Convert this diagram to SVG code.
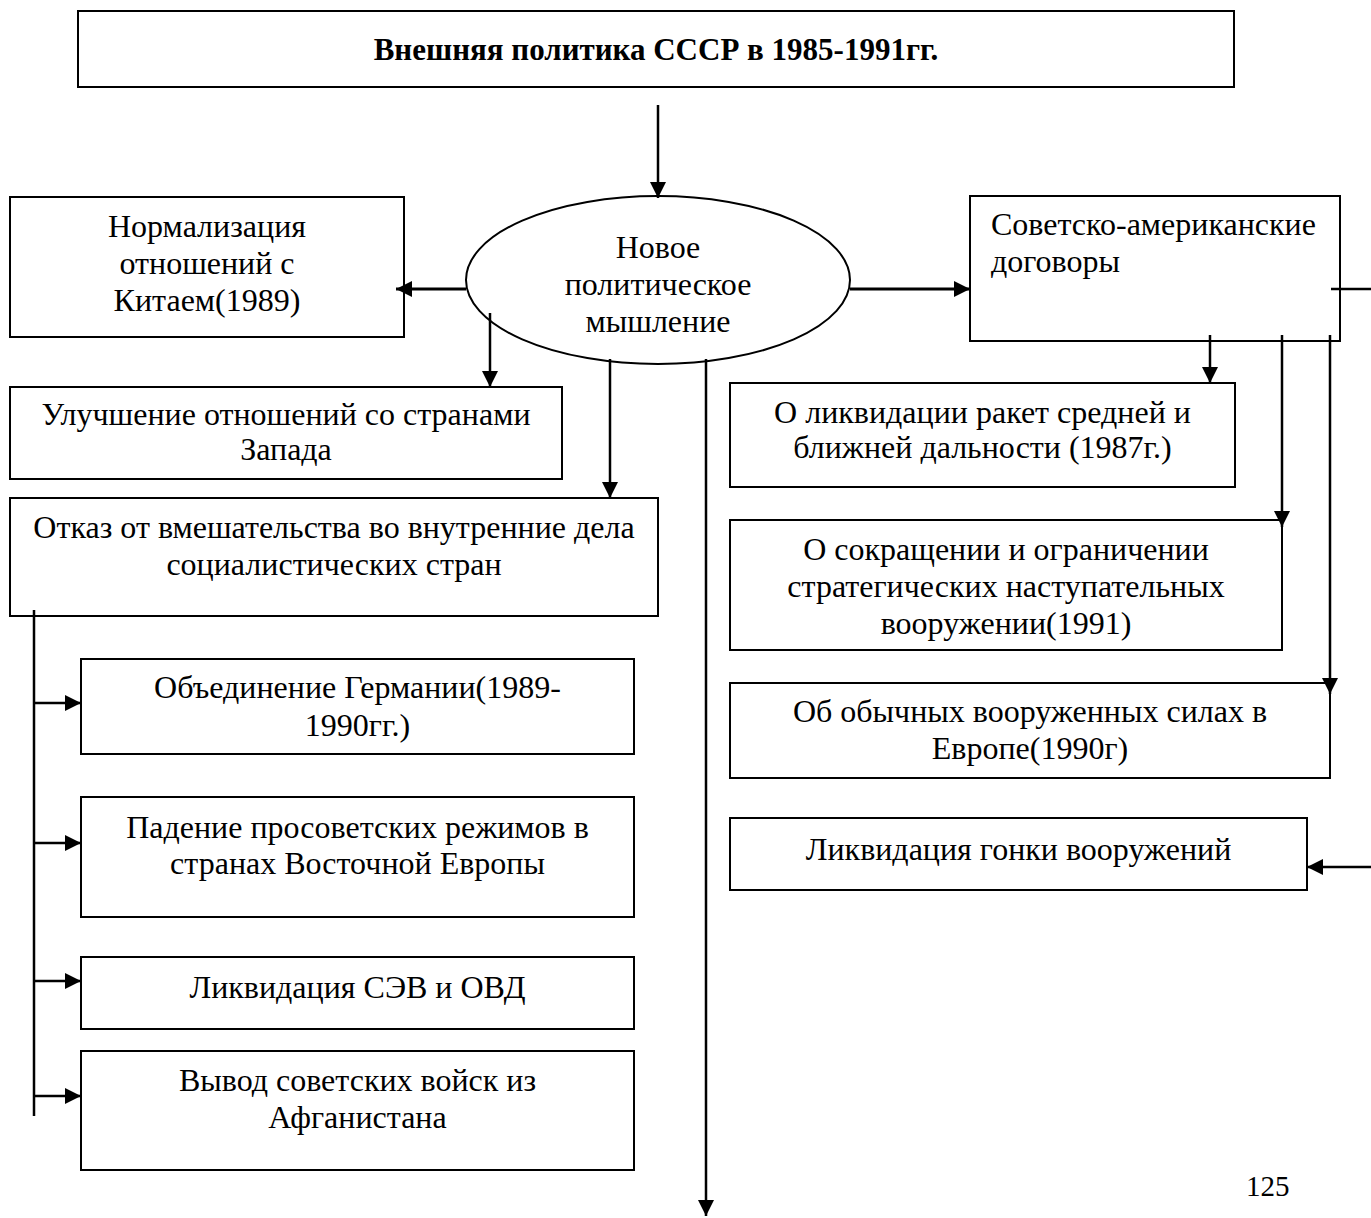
<svg xmlns="http://www.w3.org/2000/svg" width="1371" height="1218" viewBox="0 0 1371 1218">
<style>
.box{fill:#fff;stroke:#000;stroke-width:2}
.t{font-family:"Liberation Serif","Times New Roman",serif;font-size:32px;fill:#000;text-anchor:middle}
.l{text-anchor:start}
.b{font-weight:bold;font-size:31px}
.c{fill:none;stroke:#000;stroke-width:2.5}
.c3{stroke-width:3}
</style>
<defs>
<marker id="ah" viewBox="0 0 16 16" refX="16" refY="8" markerWidth="16" markerHeight="16" markerUnits="userSpaceOnUse" orient="auto">
<path d="M0,0 L16,8 L0,16 Z" fill="#000"/>
</marker>
</defs>
<rect width="1371" height="1218" fill="#fff"/>
<g id="title"><rect class="box" x="78" y="11" width="1156" height="76"/><text class="t b" x="656" y="60">Внешняя политика СССР в 1985-1991гг.</text></g>
<g id="china"><rect class="box" x="10" y="197" width="394" height="140"/><text class="t" x="207" y="237">Нормализация</text><text class="t" x="207" y="274">отношений с</text><text class="t" x="207" y="311">Китаем(1989)</text></g>
<g id="thinking"><ellipse class="box" cx="658" cy="280" rx="192" ry="84"/><text class="t" x="658" y="258">Новое</text><text class="t" x="658" y="295">политическое</text><text class="t" x="658" y="332">мышление</text></g>
<g id="usa"><rect class="box" x="970" y="196" width="370" height="145"/><text class="t l" x="991" y="235">Советско-американские</text><text class="t l" x="991" y="272">договоры</text></g>
<g id="west"><rect class="box" x="10" y="387" width="552" height="92"/><text class="t" x="286" y="425">Улучшение отношений со странами</text><text class="t" x="286" y="460">Запада</text></g>
<g id="refusal"><rect class="box" x="10" y="498" width="648" height="118"/><text class="t" x="334" y="538">Отказ от вмешательства во внутренние дела</text><text class="t" x="334" y="575">социалистических стран</text></g>
<g id="inf"><rect class="box" x="730" y="383" width="505" height="104"/><text class="t" x="982.5" y="423">О ликвидации ракет средней и</text><text class="t" x="982.5" y="458">ближней дальности (1987г.)</text></g>
<g id="start"><rect class="box" x="730" y="520" width="552" height="130"/><text class="t" x="1006" y="560">О сокращении и ограничении</text><text class="t" x="1006" y="597">стратегических наступательных</text><text class="t" x="1006" y="634">вооружении(1991)</text></g>
<g id="cfe"><rect class="box" x="730" y="683" width="600" height="95"/><text class="t" x="1030" y="722">Об обычных вооруженных силах в</text><text class="t" x="1030" y="759">Европе(1990г)</text></g>
<g id="race"><rect class="box" x="730" y="818" width="577" height="72"/><text class="t" x="1018.5" y="860">Ликвидация гонки вооружений</text></g>
<g id="germany"><rect class="box" x="81" y="659" width="553" height="95"/><text class="t" x="357.5" y="698">Объединение Германии(1989-</text><text class="t" x="357.5" y="736">1990гг.)</text></g>
<g id="regimes"><rect class="box" x="81" y="797" width="553" height="120"/><text class="t" x="357.5" y="838">Падение просоветских режимов в</text><text class="t" x="357.5" y="874">странах Восточной Европы</text></g>
<g id="comecon"><rect class="box" x="81" y="957" width="553" height="72"/><text class="t" x="357.5" y="998">Ликвидация СЭВ и ОВД</text></g>
<g id="afghan"><rect class="box" x="81" y="1051" width="553" height="119"/><text class="t" x="357.5" y="1091">Вывод советских войск из</text><text class="t" x="357.5" y="1128">Афганистана</text></g>
<g id="connectors">
<path class="c" d="M658,105 V198" marker-end="url(#ah)"/>
<path class="c c3" d="M466,289 H396" marker-end="url(#ah)"/>
<path class="c c3" d="M850,289 H970" marker-end="url(#ah)"/>
<path class="c" d="M490,313 V387" marker-end="url(#ah)"/>
<path class="c" d="M610,359 V498" marker-end="url(#ah)"/>
<path class="c" d="M706,359 V1216" marker-end="url(#ah)"/>
<path class="c" d="M1210,335 V383" marker-end="url(#ah)"/>
<path class="c" d="M1282,335 V527" marker-end="url(#ah)"/>
<path class="c" d="M1330,335 V694" marker-end="url(#ah)"/>
<path class="c" d="M1331,289 H1385 V867 H1307" marker-end="url(#ah)"/>
<path class="c" d="M34,610 V1116"/>
<path class="c" d="M34,703 H81" marker-end="url(#ah)"/>
<path class="c" d="M34,843 H81" marker-end="url(#ah)"/>
<path class="c" d="M34,981 H81" marker-end="url(#ah)"/>
<path class="c" d="M34,1096 H81" marker-end="url(#ah)"/>
</g>
<text class="t l" x="1246" y="1196" style="font-size:29px">125</text>
</svg>
